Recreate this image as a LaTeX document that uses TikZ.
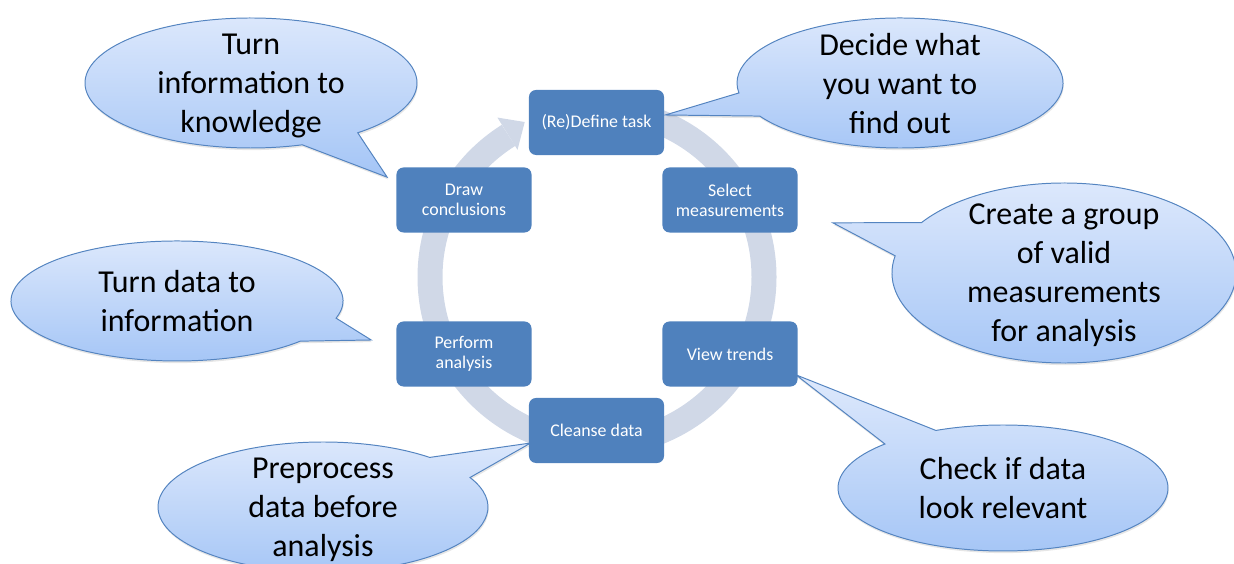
\documentclass[tikz,border=0pt]{standalone}
\usepackage{fontspec}
\setmainfont{Carlito}
\usetikzlibrary{calc,shadows}
\definecolor{boxblue}{RGB}{79,129,189}
\definecolor{ringgray}{RGB}{208,216,231}
\definecolor{calltop}{RGB}{222,233,252}
\definecolor{callbot}{RGB}{164,197,246}
\definecolor{callline}{RGB}{84,132,192}
\pgfdeclarelayer{ring}
\pgfdeclarelayer{bubbles}
\pgfsetlayers{ring,bubbles,main}
\begin{document}
\begin{tikzpicture}[x=0.025cm,y=0.025cm,
  stage/.style={rectangle,rounded corners=5pt,fill=boxblue,text=white,minimum width=3.375cm,minimum height=1.625cm,align=center,font=\fontsize{12.7}{14.2}\selectfont},
  callout/.style={draw=callline,line width=0.7pt,top color=calltop,bottom color=callbot,drop shadow={opacity=0.2,shadow xshift=0.5pt,shadow yshift=-1.5pt}},
  bubble/.style={align=center,text depth=0pt,font=\fontsize{22.7}{27.7}\selectfont}]
\useasboundingbox (0,0) rectangle (1234,564);
\clip (0,0) rectangle (1234,564);
\coordinate (c) at (597,287);
\node[stage] (define) at (596.5,441.5) {(Re)Define task};
\node[stage] (select) at (730,364) {Select\\measurements};
\node[stage] (trends) at (730,210) {View trends};
\node[stage] (cleanse) at (596.5,133.5) {Cleanse data};
\node[stage] (perform) at (464,210) {Perform\\analysis};
\node[stage] (conclude) at (464,364) {Draw\\conclusions};
\node[bubble] (know) at (251,481) {Turn\\information to\\knowledge};
\node[bubble] (decide) at (900,481) {Decide what\\you want to\\find out};
\node[bubble] (group) at (1064,291) {Create a group\\of valid\\measurements\\for analysis};
\node[bubble] (check) at (1003,76) {Check if data\\look relevant};
\node[bubble] (info) at (177,263) {Turn data to\\information};
\node[bubble] (prep) at (323,57) {Preprocess\\data before\\analysis};
\begin{pgfonlayer}{ring}
\draw[ringgray,line width=0.625cm] (c) ++(90:167) arc[start angle=90,end angle=-238,radius=167];
\fill[ringgray,shift={(c)}] (122:150) -- (115:171) -- (122:188) -- cycle;
\end{pgfonlayer}
\begin{pgfonlayer}{bubbles}
\path[callout] (know.center) ++(-50:166 and 65) arc[start angle=-50,end angle=288,x radius=166,y radius=65] -- ($(conclude.north west)+(-9,-10)$) -- cycle;
\path[callout] (decide.center) ++(210.6:163 and 65) arc[start angle=210.6,end angle=548.8,x radius=163,y radius=65] -- ($(define.east)+(1,7.5)$) -- cycle;
\path[callout] (group.center) ++(169:172 and 90) arc[start angle=169,end angle=506,x radius=172,y radius=90] -- ($(select.south east)+(35,10)$) -- cycle;
\path[callout] (check.center) ++(135.7:165 and 63) arc[start angle=135.7,end angle=474,x radius=165,y radius=63] -- ($(trends.south east)+(-2,12)$) -- cycle;
\path[callout] (info.center) ++(-16.6:166 and 60) arc[start angle=-16.6,end angle=318,x radius=166,y radius=60] -- ($(perform.west)+(-25,14)$) -- cycle;
\path[callout] (prep.center) ++(49.7:165 and 65) arc[start angle=49.7,end angle=387,x radius=165,y radius=65] -- ($(cleanse.west)+(2,-12.5)$) -- cycle;
\end{pgfonlayer}
\end{tikzpicture}
\end{document}
